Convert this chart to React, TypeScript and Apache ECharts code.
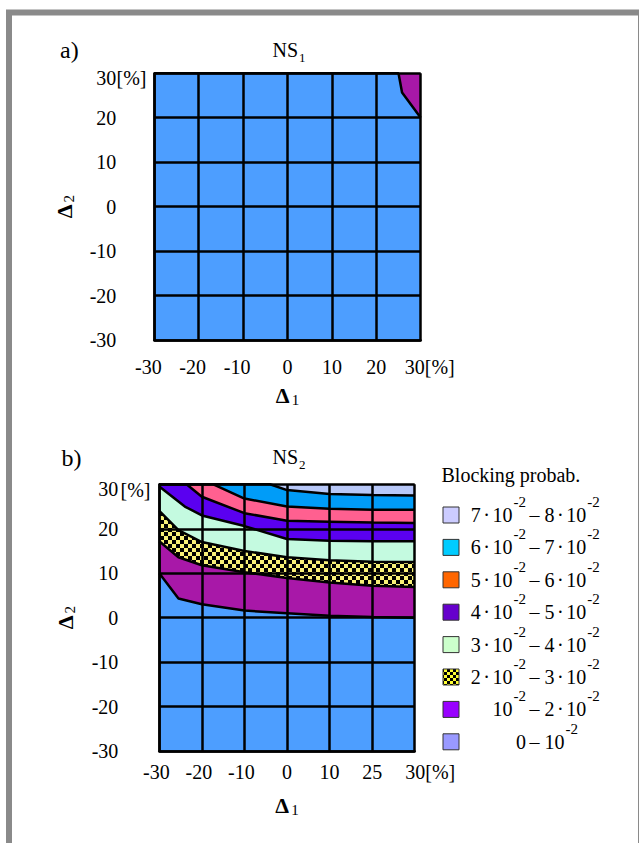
import React, { useEffect, useRef } from 'react';
import * as echarts from 'echarts';

const FONT = '"Liberation Serif", "Times New Roman", Times, serif';

// ---- axes ----
const axisValues = [-30, -20, -10, 0, 10, 20, 30];
const xTickLabelsA = ['-30', '-20', '-10', '0', '10', '20', '30[%]'];
const xTickLabelsB = ['-30', '-20', '-10', '0', '10', '25', '30[%]'];
const yTickLabels = ['-30', '-20', '-10', '0', '10', '20', '30'];

// ---- NS1 (a) : contour boundary between bands ----
const ns1Top = [[-30, 30], [30, 30]];
const ns1Boundary = [[-30, 30], [25, 30], [25.8, 25.7], [30, 20]];

// ---- NS2 (b) : contour boundaries, top band first ----
const ns2Top = [[-30, 30], [30, 30]];
const ns2B7 = [[-30, 30], [-4, 30], [0, 28.7], [10, 27.8], [20, 27.6], [30, 27.5]];
const ns2B6 = [[-30, 30], [-17.3, 30], [-10, 26.8], [0, 25], [10, 24.5], [20, 24.3], [30, 24.3]];
const ns2B5 = [[-30, 30], [-23.6, 30], [-20, 27.2], [-10, 23.5], [0, 21.8], [10, 21.6], [20, 21.4], [30, 21.3]];
const ns2B4 = [[-30, 29.5], [-24, 25], [-20, 23], [-10, 20.6], [0, 17.7], [10, 17.3], [20, 17.2], [30, 17.2]];
const ns2B3 = [[-30, 24], [-25.5, 19.7], [-20, 17], [-10, 15], [0, 13.6], [10, 12.9], [20, 12.6], [30, 12.5]];
const ns2B2 = [[-30, 17.2], [-25.5, 13.6], [-20, 11.8], [-10, 10.2], [0, 8.9], [10, 7.9], [20, 7.2], [30, 6.9]];
const ns2B1 = [[-30, 10], [-25.5, 4.3], [-20, 3], [-10, 1.6], [0, 1], [10, 0.4], [20, 0.15], [30, 0]];

const ns2Bands = [ns2Top, ns2B7, ns2B6, ns2B5, ns2B4, ns2B3, ns2B2, ns2B1];
const ns2Colors = ['#b8c8f8', '#009cf8', '#ff6090', '#5a00f0', '#c4fae0', 'CHECKER', '#a818a8', '#4d9eff'];
const ns1Colors = ['#a818a8', '#4d9eff'];

// ---- legend ----
const legendTitle = 'Blocking probab.';
const legendLower = ['7·10^-2', '6·10^-2', '5·10^-2', '4·10^-2', '3·10^-2', '2·10^-2', '10^-2', '0'];
const legendUpper = ['8·10^-2', '7·10^-2', '6·10^-2', '5·10^-2', '4·10^-2', '3·10^-2', '2·10^-2', '10^-2'];
const legendColors = ['#ccccff', '#00ccff', '#ff6600', '#6600cc', '#ccffcc', 'CHECKER', '#9900ff', '#9999ff'];

function makeChecker(s: number, yellow: string) {
  const c = document.createElement('canvas');
  c.width = s * 2;
  c.height = s * 2;
  const ctx = c.getContext('2d')!;
  ctx.fillStyle = yellow;
  ctx.fillRect(0, 0, s * 2, s * 2);
  ctx.fillStyle = '#000';
  ctx.fillRect(0, 0, s, s);
  ctx.fillRect(s, s, s, s);
  return { image: c, repeat: 'repeat' } as any;
}

const rt = (t: string) => t.replace(/\^(-?\d+)/g, '{s|$1}').replace(/·/g, '{m|·}');

export default function App() {
  const ref = useRef<HTMLDivElement>(null);
  useEffect(() => {
    if (!ref.current) return;
    const chart = echarts.init(ref.current, null, { renderer: 'svg' });
    const checker = makeChecker(4, '#f8f078');
    const checkerSmall = makeChecker(3, '#ffff33');
    const col = (c: string, pat: any) => (c === 'CHECKER' ? pat : c);

    const band = (data: number[][], color: any, idx: number, line: boolean) => ({
      type: 'line',
      xAxisIndex: idx,
      yAxisIndex: idx,
      data,
      symbol: 'none',
      showSymbol: false,
      silent: true,
      clip: true,
      animation: false,
      lineStyle: { color: '#000', width: line ? 2.5 : 0 },
      areaStyle: { color, opacity: 1, origin: 'start' },
      emphasis: { disabled: true },
      z: 2,
    });

    const labelRich = (padL: number, padNeg: number) => ({
      e: { fontSize: 20, fontFamily: FONT, color: '#000', padding: [0, 0, 0, padL] },
      n: { fontSize: 20, fontFamily: FONT, color: '#000', padding: [0, padNeg, 0, 0] },
    });

    const xAxisCfg = (idx: number, labels: string[], margin: number, padL: number, padNeg: number, gap: number) => ({
      type: 'value',
      gridIndex: idx,
      min: -30,
      max: 30,
      interval: 10,
      z: 10,
      axisLine: { show: true, onZero: false, lineStyle: { color: '#000', width: 2.5 } },
      axisTick: { show: false },
      splitLine: { show: true, showMinLine: true, showMaxLine: true, lineStyle: { color: '#000', width: 2.5 } },
      axisLabel: {
        interval: 0,
        margin,
        fontSize: 20,
        fontFamily: FONT,
        color: '#000',
        showMinLabel: true,
        showMaxLabel: true,
        hideOverlap: false,
        formatter: (v: number) => {
          const i = axisValues.indexOf(v);
          const t = labels[i];
          if (i === axisValues.length - 1) return '{e|' + t + '}';
          if (v < 0) return '{n|' + t + '}';
          return t;
        },
        rich: labelRich(padL, padNeg),
      },
      name: '{d|Δ}{s|' + (idx + 1 === 1 ? '1' : '1') + '}',
      nameLocation: 'middle',
      nameGap: gap,
      nameMoveOverlap: false,
      nameTextStyle: {
        rich: {
          d: { fontSize: 22, fontWeight: 'bold', fontFamily: FONT, color: '#000' },
          s: { fontSize: 15, lineHeight: 15, fontFamily: FONT, color: '#000', padding: [9, 0, 0, 2] },
        },
      },
    });

    const yAxisCfg = (idx: number, margin: number, gap: number) => ({
      type: 'value',
      gridIndex: idx,
      min: -30,
      max: 30,
      interval: 10,
      z: 10,
      axisLine: { show: true, onZero: false, lineStyle: { color: '#000', width: 2.5 } },
      axisTick: { show: false },
      splitLine: { show: true, showMinLine: true, showMaxLine: true, lineStyle: { color: '#000', width: 2.5 } },
      axisLabel: {
        interval: 0,
        margin,
        fontSize: 20,
        fontFamily: FONT,
        color: '#000',
        showMinLabel: true,
        showMaxLabel: true,
        hideOverlap: false,
        formatter: (v: number) => {
          const i = axisValues.indexOf(v);
          if (i === axisValues.length - 1) return '{t|' + yTickLabels[i] + '}';
          return yTickLabels[i];
        },
        rich: { t: { fontSize: 20, fontFamily: FONT, color: '#000', padding: [10, 0, 0, 0] } },
      },
      name: '{d|Δ}{s|2}',
      nameLocation: 'middle',
      nameRotate: 90,
      nameGap: gap,
      nameMoveOverlap: false,
      nameTextStyle: {
        rich: {
          d: { fontSize: 22, fontWeight: 'bold', fontFamily: FONT, color: '#000' },
          s: { fontSize: 15, lineHeight: 15, fontFamily: FONT, color: '#000', padding: [9, 0, 0, 2] },
        },
      },
    });

    const series: any[] = [];
    series.push(band(ns1Top, ns1Colors[0], 0, false));
    series.push(band(ns1Boundary, ns1Colors[1], 0, true));
    ns2Bands.forEach((b, i) => series.push(band(b, col(ns2Colors[i], checker), 1, i > 0)));

    const txt = (text: string, x: number, y: number, size: number, align: string, extra: any = {}) => ({
      type: 'text',
      silent: true,
      z: 20,
      style: {
        text,
        x,
        y,
        fontSize: size,
        fontFamily: FONT,
        fill: '#000',
        align,
        textAlign: align,
        verticalAlign: 'middle',
        textVerticalAlign: 'middle',
        ...extra,
      },
    });

    const subRich = { s: { fontSize: 13, lineHeight: 13, fontFamily: FONT, fill: '#000', color: '#000', padding: [15, 0, 0, 1] } };
    const legRich = {
      s: { fontSize: 15, lineHeight: 15, fontFamily: FONT, fill: '#000', color: '#000', padding: [0, 0, 26, 1] },
      m: { fontSize: 20, fontFamily: FONT, fill: '#000', color: '#000', padding: [0, 2.5, 0, 2.5] },
    };

    const graphic: any[] = [
      { type: 'rect', silent: true, z: 30, shape: { x: 9, y: 12.5, width: 632, height: 840 }, style: { fill: 'none', stroke: '#8a8a8a', lineWidth: 6 } },
      txt('a)', 60, 50, 24, 'left'),
      txt('NS{s|1}', 289, 50, 20, 'center', { rich: subRich }),
      txt('b)', 61.5, 458, 24, 'left'),
      txt('NS{s|2}', 289, 457, 20, 'center', { rich: subRich }),
      txt('[%]', 116.5, 78, 20, 'left'),
      txt('[%]', 120.5, 490, 20, 'left'),
      txt(legendTitle, 441.5, 475, 20, 'left'),
    ];
    const rowY0 = 515;
    const rowStep = 32.4;
    legendLower.forEach((lo, i) => {
      const y = rowY0 + i * rowStep;
      graphic.push({
        type: 'rect',
        silent: true,
        z: 20,
        shape: { x: 443, y: y - 8, width: 16, height: 16 },
        style: { fill: col(legendColors[i], checkerSmall), stroke: '#333', lineWidth: 1 },
      });
      graphic.push(txt(rt(lo), 526, y, 20, 'right', { rich: legRich }));
      graphic.push(txt('– ' + rt(legendUpper[i]), 529.5, y, 20, 'left', { rich: legRich }));
    });

    chart.setOption({
      animation: false,
      backgroundColor: '#fff',
      grid: [
        { left: 154.3, top: 73.3, width: 266.4, height: 266.7, outerBoundsMode: 'none', containLabel: false },
        { left: 159.3, top: 484.3, width: 255.4, height: 266.7, outerBoundsMode: 'none', containLabel: false },
      ],
      xAxis: [xAxisCfg(0, xTickLabelsA, 17, 18, 12, 44), xAxisCfg(1, xTickLabelsB, 11, 31, 6, 43)],
      yAxis: [yAxisCfg(0, 38, 79), yAxisCfg(1, 41, 83)],
      series,
      graphic,
    });
    return () => chart.dispose();
  }, []);
  return <div ref={ref} style={{ position: 'absolute', left: 0, top: 0, width: 639, height: 843 }} />;
}
